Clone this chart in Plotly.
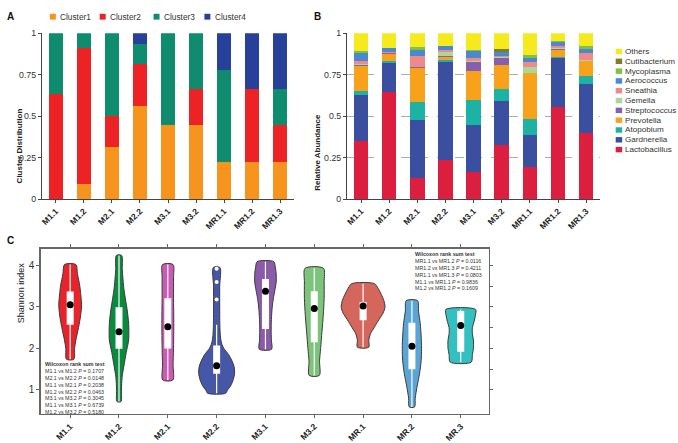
import plotly.graph_objects as go

W, H = 678, 443
FONT = "Liberation Sans, Arial, sans-serif"

# ---------------- Panel A data ----------------
samples_ab = ["M1.1", "M1.2", "M2.1", "M2.2", "M3.1", "M3.2", "MR1.1", "MR1.2", "MR1.3"]
cluster_names = ["Cluster1", "Cluster2", "Cluster3", "Cluster4"]
cluster1 = [0.0, 0.0909, 0.3125, 0.5625, 0.4444, 0.4444, 0.2222, 0.2222, 0.2222]
cluster2 = [0.6364, 0.8182, 0.1875, 0.25, 0.0, 0.2222, 0.0, 0.4444, 0.2222]
cluster3 = [0.3636, 0.0909, 0.5, 0.125, 0.5556, 0.3333, 0.5556, 0.0, 0.2222]
cluster4 = [0.0, 0.0, 0.0, 0.0625, 0.0, 0.0, 0.2222, 0.3333, 0.3333]
cluster_colors = ["#F7941D", "#ED2224", "#0F8B6E", "#27409A"]

# ---------------- Panel B data ----------------
genus_names = ["Lactobacillus", "Gardnerella", "Atopobium", "Prevotella", "Streptococcus",
               "Gemella", "Sneathia", "Aerococcus", "Mycoplasma", "Cutibacterium", "Others"]
lactobacillus = [0.350, 0.646, 0.128, 0.238, 0.163, 0.327, 0.193, 0.555, 0.398]
gardnerella = [0.276, 0.177, 0.346, 0.589, 0.282, 0.267, 0.193, 0.293, 0.295]
atopobium = [0.024, 0.008, 0.113, 0.012, 0.151, 0.071, 0.094, 0.008, 0.047]
prevotella = [0.153, 0.047, 0.204, 0.017, 0.178, 0.144, 0.278, 0.046, 0.091]
streptococcus = [0.004, 0.002, 0.004, 0.006, 0.055, 0.043, 0.004, 0.004, 0.004]
gemella = [0.006, 0.002, 0.004, 0.024, 0.004, 0.006, 0.035, 0.004, 0.004]
sneathia = [0.020, 0.004, 0.063, 0.016, 0.019, 0.004, 0.030, 0.011, 0.043]
aerococcus = [0.049, 0.025, 0.040, 0.019, 0.044, 0.026, 0.023, 0.026, 0.025]
mycoplasma = [0.010, 0.002, 0.015, 0.004, 0.004, 0.002, 0.016, 0.006, 0.018]
cutibacterium = [0.0, 0.0, 0.0, 0.0, 0.0, 0.016, 0.0, 0.0, 0.0]
others = [0.108, 0.087, 0.083, 0.075, 0.100, 0.094, 0.134, 0.047, 0.075]
genus_colors = ["#DC1F3F", "#3A4FA0", "#1CB3A5", "#F8A21C", "#8560AD", "#A6D99A",
                "#F08A8A", "#4A89CF", "#7DC242", "#7F7D2A", "#F4EA1E"]

# ---------------- Panel C data ----------------
groups_c = ["M1.1", "M1.2", "M2.1", "M2.2", "M3.1", "M3.2", "MR.1", "MR.2", "MR.3"]
shannon_min = [1.74, 0.72, 1.24, 0.92, 1.98, 1.35, 2.03, 0.59, 1.67]
shannon_q1 = [2.57, 1.99, 2.00, 1.39, 2.47, 2.15, 2.68, 1.50, 1.92]
shannon_median = [3.05, 2.40, 2.52, 1.58, 3.38, 2.96, 3.02, 2.05, 2.55]
shannon_q3 = [3.37, 2.99, 3.21, 2.07, 3.67, 3.38, 3.12, 2.62, 2.90]
shannon_max = [4.02, 4.24, 4.02, 3.95, 4.09, 3.93, 3.56, 3.15, 2.94]
whisker_high = [4.02, 4.24, 4.02, 2.57, 4.09, 3.93, 3.56, 3.15, 2.94]
outlier_group = [3, 3, 3]
outlier_value = [3.92, 3.60, 3.18]
# violin density profiles (levels top->bottom, relative density)
violin_levels = [
    [4.02, 3.8, 3.5, 3.2, 3.05, 2.8, 2.5, 2.2, 2.0, 1.74],
    [4.24, 3.9, 3.5, 3.2, 2.9, 2.6, 2.4, 2.2, 1.9, 1.6, 1.3, 1.0, 0.72],
    [4.02, 3.7, 3.2, 2.8, 2.4, 2.0, 1.6, 1.24],
    [3.95, 3.5, 3.0, 2.5, 2.25, 2.1, 2.0, 1.85, 1.7, 1.55, 1.4, 1.25, 1.1, 1.0, 0.92],
    [4.09, 3.95, 3.8, 3.6, 3.4, 3.2, 3.0, 2.7, 2.4, 2.2, 1.98],
    [3.93, 3.6, 3.2, 2.8, 2.4, 2.0, 1.7, 1.35],
    [3.56, 3.45, 3.3, 3.15, 3.0, 2.85, 2.7, 2.5, 2.35, 2.2, 2.03],
    [3.15, 2.9, 2.6, 2.3, 2.0, 1.7, 1.4, 1.1, 0.8, 0.59],
    [2.94, 2.8, 2.65, 2.5, 2.35, 2.2, 2.0, 1.85, 1.67],
]
violin_density = [
    [0.26, 0.33, 0.44, 0.50, 0.52, 0.48, 0.38, 0.26, 0.20, 0.17],
    [0.12, 0.15, 0.21, 0.29, 0.38, 0.44, 0.45, 0.44, 0.33, 0.23, 0.14, 0.11, 0.09],
    [0.24, 0.26, 0.26, 0.27, 0.27, 0.26, 0.24, 0.23],
    [0.15, 0.14, 0.14, 0.15, 0.18, 0.24, 0.33, 0.55, 0.70, 0.80, 0.82, 0.76, 0.64, 0.50, 0.41],
    [0.38, 0.45, 0.49, 0.49, 0.43, 0.36, 0.31, 0.27, 0.26, 0.27, 0.28],
    [0.42, 0.45, 0.45, 0.41, 0.35, 0.29, 0.24, 0.23],
    [0.52, 0.68, 0.83, 0.95, 1.00, 0.91, 0.73, 0.50, 0.33, 0.26, 0.26],
    [0.26, 0.30, 0.38, 0.42, 0.44, 0.42, 0.35, 0.24, 0.15, 0.12],
    [0.68, 0.67, 0.61, 0.53, 0.53, 0.58, 0.58, 0.53, 0.48],
]
violin_colors = ["#E8242B", "#0A8A3E", "#C95BB5", "#4657A8", "#8B5BAA",
                 "#7CC47C", "#D5665C", "#5AA5D5", "#34C0C0"]
wilcox_left = ["M1.1 vs M1.2 <i>P</i> = 0.1707", "M2.1 vs M2.2 <i>P</i> = 0.0148",
               "M1.1 vs M2.1 <i>P</i> = 0.2038", "M1.2 vs M2.2 <i>P</i> = 0.0463",
               "M3.1 vs M3.2 <i>P</i> = 0.3045", "M1.1 vs M3.1 <i>P</i> = 0.6739",
               "M1.2 vs M3.2 <i>P</i> = 0.5180"]
wilcox_right = ["MR1.1 vs MR1.2 <i>P</i> = 0.0116", "MR1.2 vs MR1.3 <i>P</i> = 0.4211",
                "MR1.1 vs MR1.3 <i>P</i> = 0.0803", "M1.1 vs MR1.1 <i>P</i> = 0.9836",
                "M1.2 vs MR1.2 <i>P</i> = 0.1609"]
shannon_ticks = [1, 2, 3, 4]
shannon_minor_ticks = [1, 1.5, 2, 2.5, 3, 3.5, 4]

VIOLIN_SCALE = 0.449


def px(x):
    return x / W


def py(y):
    return 1 - y / H


fig = go.Figure()

# Panel A bars
for name, vals, col in zip(cluster_names, [cluster1, cluster2, cluster3, cluster4], cluster_colors):
    fig.add_trace(go.Bar(x=samples_ab, y=vals, name=name, marker=dict(color=col, line=dict(width=0)),
                         width=0.52, xaxis="x", yaxis="y", showlegend=False))

# Panel B bars
genus_values = [lactobacillus, gardnerella, atopobium, prevotella, streptococcus, gemella,
                sneathia, aerococcus, mycoplasma, cutibacterium, others]
for name, vals, col in zip(genus_names, genus_values, genus_colors):
    fig.add_trace(go.Bar(x=samples_ab, y=vals, name=name, marker=dict(color=col, line=dict(width=0)),
                         width=0.52, xaxis="x2", yaxis="y2", showlegend=False))

# Panel C violins
for i, g in enumerate(groups_c):
    lv = violin_levels[i]
    dn = violin_density[i]
    xs = [i + d * VIOLIN_SCALE for d in dn] + [i - d * VIOLIN_SCALE for d in reversed(dn)]
    ys = list(lv) + list(reversed(lv))
    xs.append(xs[0])
    ys.append(ys[0])
    fig.add_trace(go.Scatter(x=xs, y=ys, mode="lines", fill="toself", fillcolor=violin_colors[i],
                             line=dict(color="#3a3a3a", width=1, shape="spline", smoothing=0.8),
                             xaxis="x3", yaxis="y3", showlegend=False, hoverinfo="skip"))
    fig.add_trace(go.Scatter(x=[i, i], y=[shannon_min[i], whisker_high[i]], mode="lines",
                             line=dict(color="white", width=1.2), xaxis="x3", yaxis="y3",
                             showlegend=False, hoverinfo="skip"))
    fig.add_trace(go.Scatter(x=[i, i], y=[shannon_q1[i], shannon_q3[i]], mode="lines",
                             line=dict(color="white", width=7), xaxis="x3", yaxis="y3",
                             showlegend=False, hoverinfo="skip"))

fig.add_trace(go.Scatter(x=outlier_group, y=outlier_value, mode="markers",
                         marker=dict(color="white", size=4), xaxis="x3", yaxis="y3",
                         showlegend=False, hoverinfo="skip"))
fig.add_trace(go.Scatter(x=list(range(len(groups_c))), y=shannon_median, mode="markers",
                         marker=dict(color="black", size=7), xaxis="x3", yaxis="y3",
                         showlegend=False, hoverinfo="skip"))

axis_line = dict(showline=True, linecolor="#444444", linewidth=1, ticks="outside", ticklen=3,
                 tickcolor="#444444", zeroline=False, showgrid=False)
xtick_font = dict(family=FONT, size=8.5, color="#222222", weight=700)
ytick_font = dict(family=FONT, size=8.8, color="#333333")

fig.update_layout(
    width=W, height=H, margin=dict(l=0, r=0, t=0, b=0),
    paper_bgcolor="white", plot_bgcolor="white", barmode="stack", bargap=0,
    font=dict(family=FONT, color="#222222"),
    xaxis=dict(domain=[px(40), px(293)], anchor="y", type="category", tickangle=-45,
               tickfont=xtick_font, **axis_line),
    yaxis=dict(domain=[py(199), py(29)], anchor="x", range=[0, 1],
               tickvals=[0, 0.25, 0.5, 0.75, 1], ticktext=["0", "0.25", "0.5", "0.75", "1"],
               tickfont=ytick_font, **axis_line),
    xaxis2=dict(domain=[px(346), px(600)], anchor="y2", type="category", tickangle=-45,
                tickfont=xtick_font, **axis_line),
    yaxis2=dict(domain=[py(199), py(29)], anchor="x2", range=[0, 1],
                tickvals=[0, 0.25, 0.5, 0.75, 1], ticktext=["0", "0.25", "0.5", "0.75", "1"],
                tickfont=ytick_font,
                minor=dict(tickvals=[0.25, 0.5, 0.75], showgrid=True, gridcolor="#999999",
                           griddash="dash", gridwidth=0.8, ticks=""),
                **axis_line),
    xaxis3=dict(domain=[px(39), px(488)], anchor="y3", range=[-0.6, 8.57],
                tickvals=list(range(len(groups_c))), ticktext=groups_c, tickangle=-45,
                tickfont=dict(family=FONT, size=8.5, color="#222222", weight=700),
                showline=True, linecolor="#666666", linewidth=1.5, mirror="ticks",
                ticks="outside", ticklen=3, tickcolor="#666666", showgrid=False, zeroline=False),
    yaxis3=dict(domain=[py(419), py(250)], anchor="x3", range=[0.43, 4.4],
                tickvals=shannon_ticks, tickfont=dict(family=FONT, size=10, color="#333333"),
                showline=True, linecolor="#666666", linewidth=1.5, mirror=True,
                ticks="outside", ticklen=3, tickcolor="#666666", showgrid=False, zeroline=False),
    yaxis4=dict(domain=[py(419), py(250)], anchor="x3", overlaying="y3", side="right",
                range=[0.43, 4.4], tickvals=shannon_minor_ticks, showticklabels=False,
                ticks="outside", ticklen=3, tickcolor="#666666", showline=False,
                showgrid=False, zeroline=False),
)
# invisible trace to activate the right-side tick axis
fig.add_trace(go.Scatter(x=[0], y=[shannon_median[0]], mode="markers", marker=dict(opacity=0),
                         xaxis="x3", yaxis="y4", showlegend=False, hoverinfo="skip"))

shapes = []
annotations = []

# Panel letters
for letter, x0, y0 in [("A", 3, 12), ("B", 311, 12), ("C", 3, 241)]:
    annotations.append(dict(text="<b>%s</b>" % letter, x=px(x0), y=py(y0), xref="paper", yref="paper",
                            xanchor="left", yanchor="middle", showarrow=False,
                            font=dict(family=FONT, size=10, color="#111111")))

# Axis titles
annotations.append(dict(text="<b>Cluster Distribution</b>", x=px(11), y=py(104), xref="paper", yref="paper",
                        textangle=-90, showarrow=False, font=dict(family=FONT, size=8, color="#222222")))
annotations.append(dict(text="<b>Relative Abundance</b>", x=px(317), y=py(110), xref="paper", yref="paper",
                        textangle=-90, showarrow=False, font=dict(family=FONT, size=8, color="#222222")))
annotations.append(dict(text="Shannon index", x=px(12), y=py(328), xref="paper", yref="paper",
                        textangle=-90, showarrow=False, font=dict(family=FONT, size=9, color="#222222")))

# Legend A (horizontal)
leg_a_x = [48, 98, 152, 203]
for name, col, lx in zip(cluster_names, cluster_colors, leg_a_x):
    shapes.append(dict(type="rect", xref="paper", yref="paper", x0=px(lx), x1=px(lx + 6),
                       y0=py(15), y1=py(9), fillcolor=col, line=dict(width=0)))
    annotations.append(dict(text=name, x=px(lx + 8.5), y=py(12), xref="paper", yref="paper",
                            xanchor="left", yanchor="middle", showarrow=False,
                            font=dict(family=FONT, size=8.3, color="#333333")))

# Legend B (vertical, reversed)
for k, (name, col) in enumerate(zip(reversed(genus_names), reversed(genus_colors))):
    cy = 47.7 + k * 10.06
    shapes.append(dict(type="rect", xref="paper", yref="paper", x0=px(615.5), x1=px(622),
                       y0=py(cy + 2.8), y1=py(cy - 2.8), fillcolor=col, line=dict(width=0)))
    annotations.append(dict(text=name, x=px(623.5), y=py(cy), xref="paper", yref="paper",
                            xanchor="left", yanchor="middle", showarrow=False, borderpad=0,
                            font=dict(family=FONT, size=8.1, color="#333333")))

# Wilcoxon notes
annotations.append(dict(text="<b>Wilcoxon rank sum test</b><br>" + "<br>".join(wilcox_left),
                        x=px(42), y=py(364.5), xref="paper", yref="paper", xanchor="left", yanchor="top",
                        align="left", showarrow=False, borderpad=0,
                        font=dict(family=FONT, size=5.3, color="#333333")))
annotations.append(dict(text="<b>Wilcoxon rank sum test</b><br>" + "<br>".join(wilcox_right),
                        x=px(413), y=py(251.5), xref="paper", yref="paper", xanchor="left", yanchor="top",
                        align="left", showarrow=False, borderpad=0,
                        font=dict(family=FONT, size=5.3, color="#333333")))

fig.update_layout(shapes=shapes, annotations=annotations)
fig.write_html("out.html", config={"displayModeBar": False, "staticPlot": True},
               post_script="document.body.style.margin='0px';document.body.style.padding='0px';")
